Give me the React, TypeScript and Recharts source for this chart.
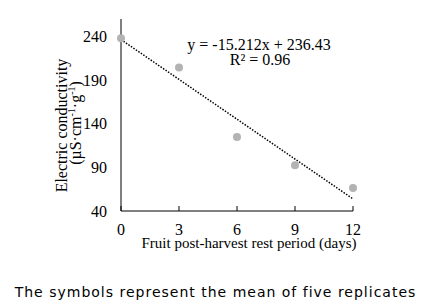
import { ComposedChart, Scatter, Line, XAxis, YAxis } from 'recharts'

// mean electric conductivity at each rest day
const days = [0, 3, 6, 9, 12]
const conductivity = [238, 204.5, 124.7, 92.3, 66.3]
const xTicks = [0, 3, 6, 9, 12]
const yTicks = [40, 90, 140, 190, 240]

// linear fit shown on the chart
const slope = -15.212
const intercept = 236.43
const rSquared = 0.96
const fitRange = [0, 12]

const points = days.map((d, i) => ({ x: d, y: conductivity[i] }))
const fitLine = fitRange.map(x => ({ x, fit: intercept + slope * x }))

const serif = '"Liberation Serif", "Times New Roman", serif'

function XTick(props: any) {
  const { x, y, payload } = props
  return (
    <g>
      <line x1={x} y1={y} x2={x} y2={y - 5} stroke="#000" strokeWidth={1} />
      <text x={x} y={y + 23.5} textAnchor="middle" fontFamily={serif} fontSize={16} fill="#000">
        {payload.value}
      </text>
    </g>
  )
}

export default function App() {
  return (
    <div style={{ position: 'absolute', left: 0, top: 0, width: 428, height: 308, background: '#fff' }}>
      <ComposedChart width={428} height={260} margin={{ top: 19, right: 75, bottom: 0, left: 0 }}>
        <XAxis
          type="number"
          dataKey="x"
          domain={[0, 12]}
          ticks={xTicks}
          height={49}
          tickLine={false}
          tickSize={0}
          tickMargin={0}
          axisLine={{ stroke: '#000', strokeWidth: 1 }}
          tick={<XTick />}
        />
        <YAxis
          type="number"
          domain={[40, 260]}
          ticks={yTicks}
          width={121}
          tickLine={false}
          tickSize={0}
          tickMargin={14}
          axisLine={{ stroke: '#000', strokeWidth: 1 }}
          tick={{ fontFamily: serif, fontSize: 16, fill: '#000' }}
        />
        <Line
          data={fitLine}
          dataKey="fit"
          type="linear"
          stroke="#000"
          strokeWidth={1.5}
          strokeDasharray="1.5 1.5"
          dot={false}
          activeDot={false}
          isAnimationActive={false}
        />
        <Scatter
          data={points}
          dataKey="y"
          fill="#b3b3b3"
          shape={(p: any) => <circle cx={p.cx} cy={p.cy} r={4} fill="#b3b3b3" />}
          isAnimationActive={false}
        />
      </ComposedChart>
      <svg width={428} height={308} style={{ position: 'absolute', left: 0, top: 0, pointerEvents: 'none' }}>
        <text x={259} y={50} textAnchor="middle" fontFamily={serif} fontSize={16} fill="#000">
          {`y = ${slope}x + ${intercept}`}
        </text>
        <text x={260} y={64.5} textAnchor="middle" fontFamily={serif} fontSize={16} fill="#000">
          R² = {rSquared}
        </text>
        <text
          transform="translate(66.5,125.5) rotate(-90)"
          textAnchor="middle"
          fontFamily={serif}
          fontSize={16}
          fill="#000"
        >
          Electric conductivity
        </text>
        <text
          transform="translate(81,123) rotate(-90)"
          textAnchor="middle"
          fontFamily={serif}
          fontSize={16}
          fill="#000"
        >
          (µS·cm<tspan fontSize={10} dy={-6}>-1</tspan>
          <tspan dy={6}>·g</tspan>
          <tspan fontSize={10} dy={-6}>-1</tspan>
          <tspan dy={6}>)</tspan>
        </text>
        <text x={249} y={248} textAnchor="middle" fontFamily={serif} fontSize={15} fill="#000">
          Fruit post-harvest rest period (days)
        </text>
        <text
          x={215.5}
          y={297}
          textAnchor="middle"
          fontFamily='"DejaVu Sans", Verdana, sans-serif'
          fontSize={14}
          letterSpacing={1}
          fill="#000"
        >
          The symbols represent the mean of five replicates
        </text>
      </svg>
    </div>
  )
}
